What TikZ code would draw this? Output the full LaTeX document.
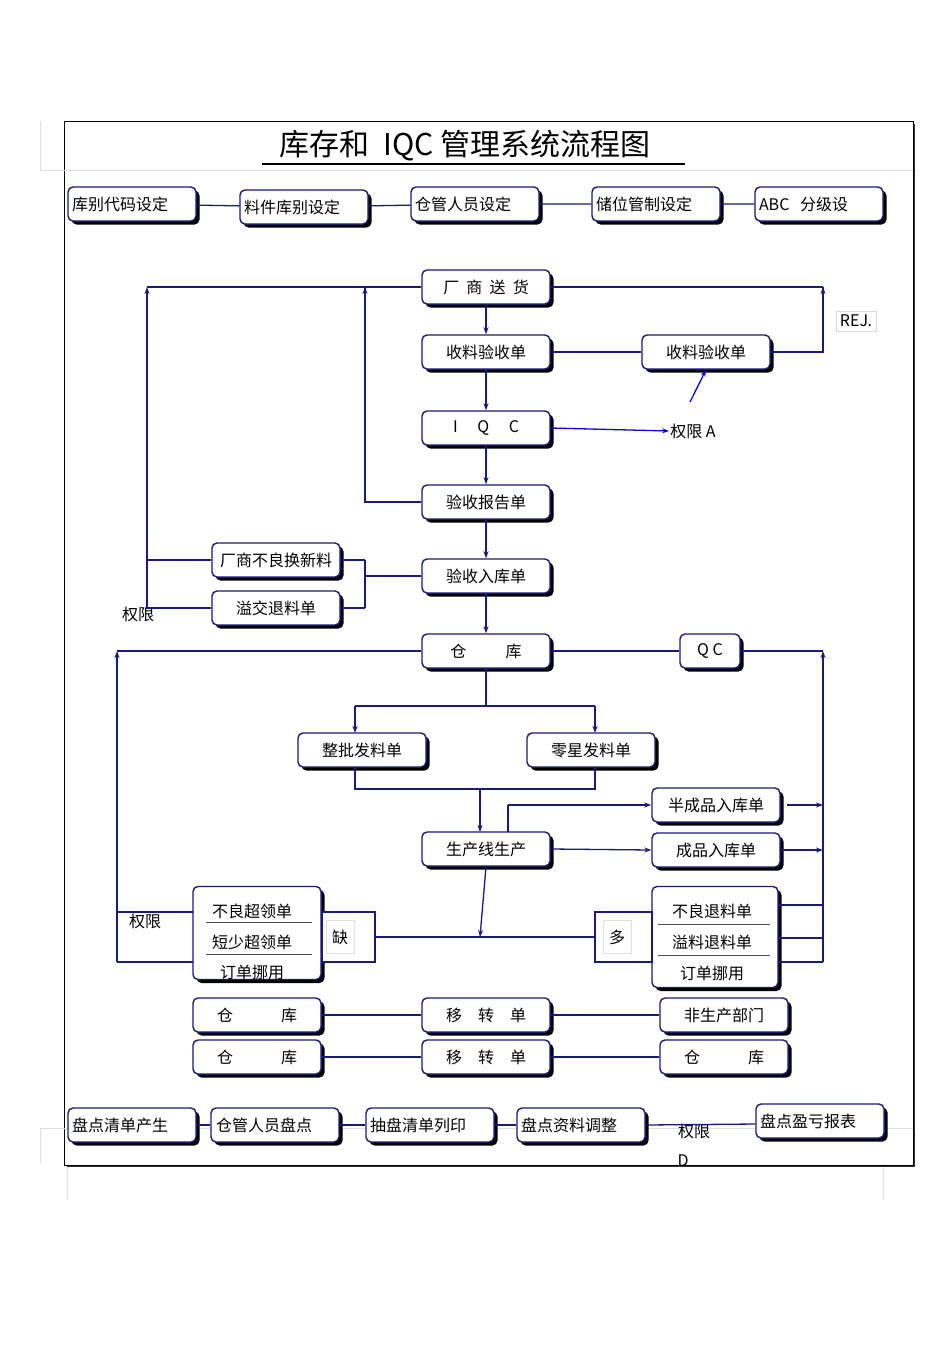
\documentclass[tikz,border=0pt]{standalone}
\usepackage{fontspec}
\setmainfont{Noto Sans CJK SC}
\usetikzlibrary{shadows,arrows.meta}
\definecolor{nv}{HTML}{1A1A78}
\begin{document}
\begin{tikzpicture}[x=1pt,y=-1pt,
 box/.style={draw=nv,line width=1.4pt,rounded corners=5pt,fill=white,minimum width=128pt,minimum height=34pt,inner sep=2pt,
   drop shadow={shadow xshift=3.5pt,shadow yshift=-3.5pt,fill=black,opacity=1},font=\fontsize{16}{18}\selectfont},
 ln/.style={draw=nv,line width=1.3pt},
 ar/.style={ln,-{Stealth[length=7pt,width=5pt]}},
 lab/.style={font=\fontsize{16}{18}\selectfont,inner sep=1pt}]
\useasboundingbox (0,0) rectangle (950,1346);
% faint grid lines
\draw[gray!25,line width=0.8pt] (40,170)--(913,170) (40,121)--(40,170) (40,1128)--(64,1128) (913,1128)--(913,1128) (40,1128)--(40,1163) (67,1165)--(67,1200) (883,1165)--(883,1200);
% frame
\fill[black!80] (67,124) rectangle (915,1167);
\draw[black,line width=1pt,fill=white] (64,121) rectangle (913,1165);
\draw[gray!25,line width=0.8pt] (64,170)--(913,170) (64,1128)--(913,1128);
% title
\node[font=\fontsize{30}{32}\selectfont] (title) at (465,146) {库存和\ \ IQC 管理系统流程图};
\draw[line width=1.3pt] (262,164)--(685,164);
% row 1
\node[box,text width=120pt,align=left] (r1) at (132,204) {库别代码设定};
\node[box,text width=120pt,align=left] (r2) at (304,207) {料件库别设定};
\node[box,text width=120pt,align=left] (r3) at (475,204) {仓管人员设定};
\node[box,text width=120pt,align=left] (r4) at (656,204) {储位管制设定};
\node[box,text width=120pt,align=left] (r5) at (819,204) {ABC\ \ 分级设};
\draw[ln] (r1)--(r2) (r2)--(r3) (r3)--(r4) (r4)--(r5);
% main column
\node[box] (vd) at (486,287) {厂\ \ 商\ \ 送\ \ 货};
\node[box] (sl) at (486,352) {收料验收单};
\node[box] (sl2) at (706,352) {收料验收单};
\node[box] (iqc) at (486,428) {I\quad\ Q\quad\ C};
\node[box] (bg) at (486,502) {验收报告单};
\node[box] (rk) at (486,576) {验收入库单};
\node[box] (ck) at (486,651) {仓\qquad\ \ 库};
\node[box,minimum width=60pt] (qc) at (710,651) {Q C};
\node[box] (hx) at (276,560) {厂商不良换新料};
\node[box] (yj) at (276,608) {溢交退料单};
\node[lab] (qxa) at (693,431) {权限 A};
\node[lab,draw=gray!30,fill=white,inner sep=4pt] (rej) at (856,321) {REJ.};
\node[lab] (qx1) at (138,614) {权限};
\coordinate (c1) at (823,287); \coordinate (c2) at (823,352);
\coordinate (l1) at (147,287); \coordinate (l2) at (365,287);
\draw[ar] (vd)--(sl); \draw[ar] (sl)--(iqc); \draw[ar] (iqc)--(bg); \draw[ar] (bg)--(rk); \draw[ar] (rk)--(ck);
\draw[ln] (sl)--(sl2);
\draw[ln] (sl2.east)--(c2)--(c1);
\draw[ar] (823,320)--(c1);
\draw[ln] (vd.east)--(c1);
\draw[ar,draw=blue!70!nv] (iqc.east)--(qxa.west);
\draw[ar,draw=blue!70!nv] (690,402)--(sl2.south);
\draw[ln] (vd.west)--(l1);
\draw[ln] (bg.west)-|(l2); \draw[ar] (365,320)--(l2);
\draw[ln] (rk.west)--(365,576) (365,560)--(365,608) (hx.east)--(365,560) (yj.east)--(365,608);
\draw[ln] (hx.west)--(147,560) (yj.west)--(147,608)--(147,320); \draw[ar] (147,320)--(l1);
% warehouse section
\coordinate (l3) at (117,651); \coordinate (c3) at (823,651);
\draw[ln] (ck)--(qc); \draw[ln] (qc.east)--(c3); \draw[ln] (ck.west)--(l3);
\draw[ln] (117,962)--(117,690); \draw[ar] (117,690)--(l3);
\draw[ln] (823,962)--(823,690); \draw[ar] (823,690)--(c3);
\node[box] (zp) at (362,750) {整批发料单};
\node[box] (lx) at (591,750) {零星发料单};
\draw[ln] (ck.south)--(486,706) (355,706)--(595,706);
\draw[ar] (355,706)--(355,733); \draw[ar] (595,706)--(595,733);
\draw[ln] (355,767)--(355,789)--(595,789)--(595,767);
\node[box] (sc) at (486,849) {生产线生产};
\draw[ar] (480,789)--(480,832);
\node[box] (bcp) at (716,805) {半成品入库单};
\node[box] (cp) at (716,850) {成品入库单};
\draw[ln] (508,832)--(508,805); \draw[ar] (508,805)--(bcp.west);
\draw[ar] (sc.east)--(cp.west);
\draw[ar] (787,805)--(823,805); \draw[ar] (cp.east)--(823,850);
% composite boxes
\node[box,minimum height=93pt] (lb) at (257,933) {};
\draw[line width=1pt,gray!60!black] (206,922)--(312,922) (206,954)--(312,954);
\node[lab] (lb1) at (252,911) {不良超领单};
\node[lab] (lb2) at (252,942) {短少超领单};
\node[lab] (lb3) at (252,972) {订单挪用};
\node[box,minimum height=101pt,minimum width=126pt] (rb) at (715,937) {};
\draw[line width=1pt,gray!60!black] (658,924)--(770,924) (658,955)--(770,955);
\node[lab] (rb1) at (712,911) {不良退料单};
\node[lab] (rb2) at (712,942) {溢料退料单};
\node[lab] (rb3) at (712,973) {订单挪用};
\draw[ln,fill=white] (322,912) rectangle (375,962);
\node[lab,draw=gray!25,minimum width=28pt,minimum height=33pt,anchor=west] (que) at (326,937) {缺};
\draw[ln,fill=white] (595,912) rectangle (652,962);
\node[lab,draw=gray!25,minimum width=28pt,minimum height=33pt,anchor=west] (duo) at (603,937) {多};
\draw[ar] (sc.south)--(480,937);
\draw[ln] (375,937)--(595,937);
\draw[ln] (117,912)--(193,912) (117,962)--(193,962);
\node[lab] (qx2) at (145,921) {权限};
\draw[ln] (778,905)--(823,905) (778,938)--(823,938) (778,962)--(823,962);
% transfer rows
\node[box] (ck1) at (257,1015) {仓\qquad\quad 库};
\node[box] (yz1) at (486,1015) {移\quad 转\quad 单};
\node[box] (fsc) at (724,1015) {非生产部门};
\node[box] (ck2) at (257,1057) {仓\qquad\quad 库};
\node[box] (yz2) at (486,1057) {移\quad 转\quad 单};
\node[box] (ck3) at (724,1057) {仓\qquad\quad 库};
\draw[ln] (ck1)--(yz1) (yz1)--(fsc) (ck2)--(yz2) (yz2)--(ck3);
% bottom row
\node[box,text width=120pt,align=left] (b1) at (132,1125) {盘点清单产生};
\node[box,text width=118pt,align=left] (b2) at (275,1125) {仓管人员盘点};
\node[box,text width=120pt,align=left] (b3) at (430,1125) {抽盘清单列印};
\node[box,text width=120pt,align=left] (b4) at (581,1125) {盘点资料调整};
\node[box,text width=120pt,align=left] (b5) at (820,1121) {盘点盈亏报表};
\node[lab] (qxd) at (694,1131) {权限};
\node[lab] (dd) at (683,1161) {D};
\draw[ln] (b1)--(b2) (b2)--(b3) (b3)--(b4);
\draw[ln] (b4.east)--(b5.west|-0,1124);
\end{tikzpicture}
\end{document}
